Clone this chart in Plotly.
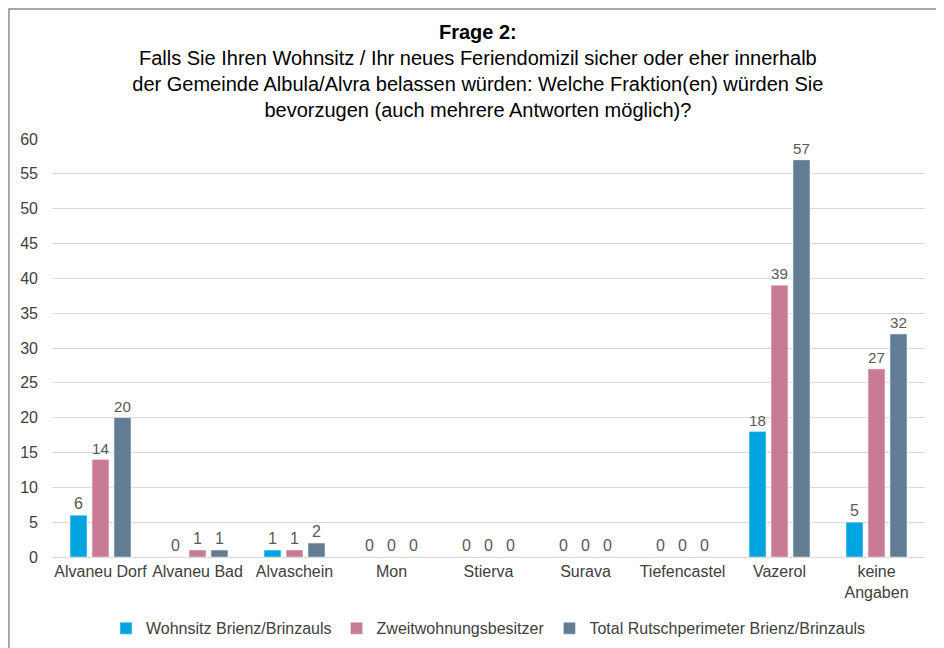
import plotly.graph_objects as go

categories = ["Alvaneu Dorf", "Alvaneu Bad", "Alvaschein", "Mon", "Stierva", "Surava",
              "Tiefencastel", "Vazerol", "keine<br>Angaben"]
wohnsitz = [6, 0, 1, 0, 0, 0, 0, 18, 5]
zweitwohnung = [14, 1, 1, 0, 0, 0, 0, 39, 27]
total = [20, 1, 2, 0, 0, 0, 0, 57, 32]

series = [
    ("Wohnsitz Brienz/Brinzauls", wohnsitz, "#00A5E0"),
    ("Zweitwohnungsbesitzer", zweitwohnung, "#C97B93"),
    ("Total Rutschperimeter Brienz/Brinzauls", total, "#627C94"),
]

font = "Liberation Sans, Arial, sans-serif"

fig = go.Figure()
for name, vals, col in series:
    fig.add_trace(go.Bar(
        x=categories,
        y=vals,
        name=name,
        marker=dict(color=col),
        text=vals,
        textposition="outside",
        textfont=dict(size=16, color="#595959", family=font),
        cliponaxis=False,
    ))

# frame around the whole chart
fig.add_shape(type="rect", xref="paper", yref="paper",
              x0=-0.0493, x1=1.0195, y0=-0.3, y1=1.311,
              line=dict(color="#8c8c8c", width=1.5), fillcolor="rgba(0,0,0,0)", layer="below")

fig.update_layout(
    width=936, height=640,
    paper_bgcolor="white", plot_bgcolor="white",
    margin=dict(l=44, r=19, t=131, b=91, autoexpand=False),
    barmode="group", bargap=0.32, bargroupgap=0.23,
    font=dict(family=font, size=16, color="#404040"),
    title=dict(
        text="<b>Frage 2:</b><br>Falls Sie Ihren Wohnsitz / Ihr neues Feriendomizil sicher oder eher innerhalb"
             "<br>der Gemeinde Albula/Alvra belassen würden: Welche Fraktion(en) würden Sie"
             "<br>bevorzugen (auch mehrere Antworten möglich)?",
        x=0.502, xanchor="center", y=0.952, yanchor="top",
        font=dict(size=20, color="black", family=font),
    ),
    legend=dict(orientation="h", x=0.5, xanchor="center", y=-0.13, yanchor="top",
                font=dict(size=16, color="#404040"), itemwidth=30, traceorder="normal"),
    showlegend=True,
)
fig.update_yaxes(range=[0, 60], dtick=5, gridcolor="#d9d9d9", zeroline=False,
                 showline=False, tickfont=dict(size=16, color="#404040"), ticks="",
                 ticklabelstandoff=13)
fig.update_xaxes(showline=True, linecolor="#d9d9d9", linewidth=1,
                 tickfont=dict(size=16, color="#404040"), ticks="")

fig.write_html("out.html")
